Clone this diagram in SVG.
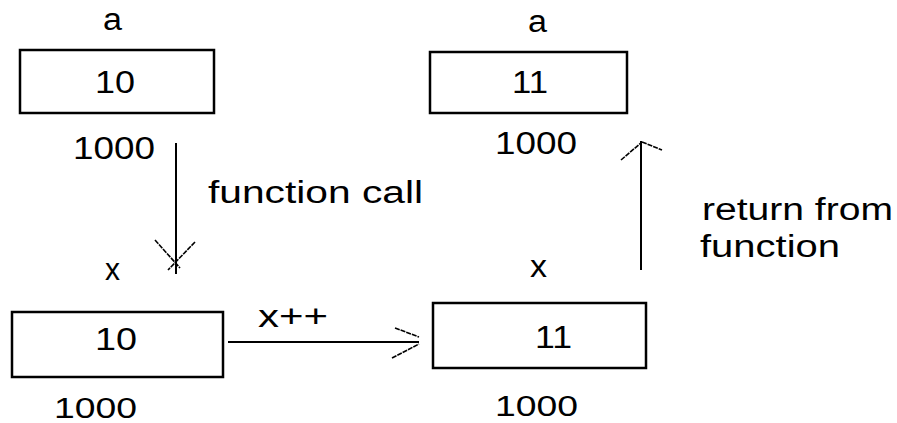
<svg xmlns="http://www.w3.org/2000/svg" width="897" height="423" viewBox="0 0 897 423">
<style>
.box{fill:#fff;stroke:#000;stroke-width:2.5}
.t{font-family:"Liberation Sans",Arial,sans-serif;font-size:31px;fill:#000}
.s{font-size:29px}
.ln{stroke:#000;stroke-width:2;fill:none}
.hd{stroke:#000;stroke-width:1.6;fill:none;stroke-dasharray:5 1}
</style>
<rect width="897" height="423" fill="#fff"/>
<g id="a-top">
<text class="t" x="103" y="30" textLength="19" lengthAdjust="spacingAndGlyphs">a</text>
<rect class="box" x="20" y="50" width="194" height="63"/>
<text class="t" x="95" y="93" textLength="40" lengthAdjust="spacingAndGlyphs">10</text>
<text class="t" x="73" y="159" textLength="82" lengthAdjust="spacingAndGlyphs">1000</text>
</g>
<g id="a-after">
<text class="t" x="528" y="32" textLength="19" lengthAdjust="spacingAndGlyphs">a</text>
<rect class="box" x="430" y="52" width="197" height="61"/>
<text class="t" x="512" y="93" textLength="36" lengthAdjust="spacingAndGlyphs">11</text>
<text class="t" x="495" y="154" textLength="82" lengthAdjust="spacingAndGlyphs">1000</text>
</g>
<g id="x-before">
<text class="t" x="105" y="280" textLength="15" lengthAdjust="spacingAndGlyphs">x</text>
<rect class="box" x="12" y="312" width="211" height="65"/>
<text class="t" x="95" y="350" textLength="42" lengthAdjust="spacingAndGlyphs">10</text>
<text class="t s" x="54" y="418" textLength="83" lengthAdjust="spacingAndGlyphs">1000</text>
</g>
<g id="x-after">
<text class="t" x="530" y="277" textLength="17" lengthAdjust="spacingAndGlyphs">x</text>
<rect class="box" x="433" y="303" width="213" height="65"/>
<text class="t" x="535" y="348" textLength="37" lengthAdjust="spacingAndGlyphs">11</text>
<text class="t s" x="495" y="416" textLength="83" lengthAdjust="spacingAndGlyphs">1000</text>
</g>
<g id="connectors">
<line class="ln" x1="176" y1="143" x2="176" y2="274"/>
<line class="hd" x1="155" y1="240" x2="180" y2="268"/>
<line class="hd" x1="195" y1="242" x2="168" y2="270"/>
<text class="t" x="208" y="203" textLength="215" lengthAdjust="spacingAndGlyphs">function call</text>
<line class="ln" x1="228" y1="342" x2="419" y2="342"/>
<line class="hd" x1="395" y1="328" x2="419" y2="337"/>
<line class="hd" x1="392" y1="358" x2="419" y2="344"/>
<text class="t" x="258" y="327" textLength="70" lengthAdjust="spacingAndGlyphs">x++</text>
<line class="ln" x1="641" y1="270" x2="641" y2="141"/>
<line class="hd" x1="621" y1="160" x2="642" y2="142"/>
<line class="hd" x1="642" y1="142" x2="662" y2="150"/>
<text class="t" x="702" y="220" textLength="191" lengthAdjust="spacingAndGlyphs">return from</text>
<text class="t" x="700" y="257" textLength="140" lengthAdjust="spacingAndGlyphs">function</text>
</g>
</svg>
